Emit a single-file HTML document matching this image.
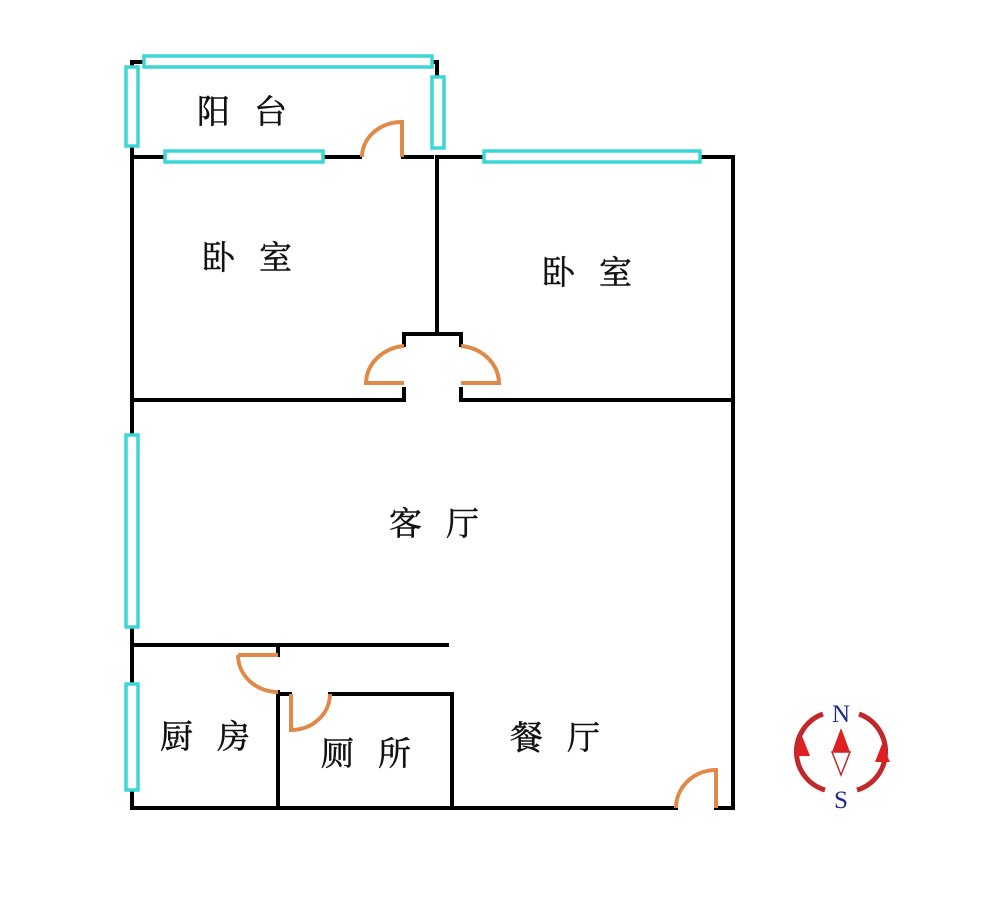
<!DOCTYPE html>
<html><head><meta charset="utf-8"><style>html,body{margin:0;padding:0;background:#fff}svg{display:block}</style></head>
<body>
<svg width="1000" height="901" viewBox="0 0 1000 901" xmlns="http://www.w3.org/2000/svg">
<g stroke="#000" stroke-width="4" fill="none" stroke-linecap="square">
<path d="M132 64V808H676M716 808H733V157H700M483 157H437M403 157H432M360 157H323M165 157H132"/>
<path d="M132 62H142M432 62H437V76"/>
<path d="M437 157V334H404V345M437 334H461V345"/>
<path d="M132 400H404V389M461 389V400H733"/>
<path d="M132 645H447M278 645V655M278 692V808M278 694H290M330 694H452V808"/>
</g>
<g fill="#fff" stroke="#3cd6d6" stroke-width="3.5">
<rect x="144" y="56" width="288" height="11"/>
<rect x="126" y="67" width="12" height="79"/>
<rect x="432" y="77" width="12" height="71"/>
<rect x="165" y="151" width="158" height="11"/>
<rect x="484" y="151" width="216" height="11"/>
<rect x="126" y="435" width="12" height="192"/>
<rect x="126" y="684" width="12" height="106"/>
</g>
<g stroke="#e08a4a" stroke-width="4" fill="none">
<path d="M362 157A40 35 0 0 1 402 122V157"/>
<path d="M404 383H366A42 38 0 0 1 404 346"/>
<path d="M461 383H499A42 38 0 0 0 461 346"/>
<path d="M238 655H278M238 655A40 37 0 0 0 278 692"/>
<path d="M291 694V730A39 36 0 0 0 330 694"/>
<path d="M676 808A40 38 0 0 1 716 770V808"/>
</g>
<g font-family="'Liberation Serif','Noto Serif CJK SC','Noto Sans CJK SC',serif" font-size="33" fill="#111" stroke="#111" stroke-width="0.5">
<text x="197" y="123">阳</text><text x="254" y="123">台</text>
<text x="202" y="269">卧</text><text x="259" y="269">室</text>
<text x="542" y="284">卧</text><text x="599" y="284">室</text>
<text x="389" y="535">客</text><text x="446" y="535">厅</text>
<text x="160" y="748">厨</text><text x="217" y="748">房</text>
<text x="321" y="765">厕</text><text x="378" y="765">所</text>
<text x="510" y="749">餐</text><text x="567" y="749">厅</text>
</g>
<g>
<path d="M823 714A40 40 0 0 0 825 790" stroke="#c0282a" stroke-width="5" fill="none"/>
<path d="M859 714A40 40 0 0 1 857 790" stroke="#c0282a" stroke-width="5" fill="none"/>
<polygon points="802,736 795,756 810,756" fill="#e02020"/>
<polygon points="882,744 875,762 890,762" fill="#e02020"/>
<polygon points="841,728 832,752 850,752" fill="#e02020"/>
<polygon points="832,752 850,752 841,775" fill="#fff" stroke="#c0282a" stroke-width="1.5"/>
<text x="841" y="722" font-family="'Liberation Serif',serif" font-size="25" fill="#1a2a8a" text-anchor="middle">N</text>
<text x="841" y="808" font-family="'Liberation Serif',serif" font-size="25" fill="#1a2a8a" text-anchor="middle">S</text>
</g>
</svg>
</body></html>
